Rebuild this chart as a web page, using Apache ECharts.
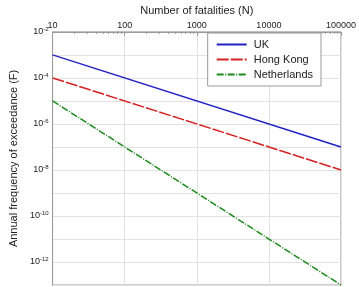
<!DOCTYPE html>
<html>
<head>
<meta charset="utf-8">
<script src="https://cdn.jsdelivr.net/npm/echarts@6/dist/echarts.min.js"></script>
<style>
  html, body { margin: 0; padding: 0; background: #fff; }
  #chart { width: 359px; height: 287px; }
</style>
</head>
<body>
<div id="chart"></div>
<script>
// endpoints (straight lines on log-log axes)
var fatalities = [10, 100000];
var ukFreq = [1e-3, 1e-7];
var hongKongFreq = [1e-4, 1e-8];
var netherlandsFreq = [1e-5, 1e-13];
var seriesNames = ["UK", "Hong Kong", "Netherlands"];

function pairs(xs, ys) {
  return xs.map(function (x, i) { return [x, ys[i]]; });
}

var myChart = echarts.init(document.getElementById("chart"));
var font = "Liberation Sans, Arial, sans-serif";

myChart.setOption({
  animation: false,
  textStyle: { fontFamily: font },
  grid: {
    left: 34,
    top: 24,
    right: 13,
    bottom: 2,
    show: true,
    borderColor: "#9a9a9a",
    borderWidth: 1
  },
  legend: {
    right: 38,
    top: 33,
    orient: "vertical",
    backgroundColor: "#fff",
    borderColor: "#9a9a9a",
    borderWidth: 1,
    padding: [6, 8, 6, 8],
    itemGap: 4,
    itemWidth: 30,
    itemHeight: 8,
    itemStyle: { opacity: 0 },
    textStyle: { fontSize: 11, color: "#222", fontFamily: font, padding: [0, 0, 0, 2] },
    data: seriesNames
  },
  xAxis: {
    type: "log",
    logBase: 10,
    min: 10,
    max: 100000,
    position: "top",
    name: "Number of fatalities (N)",
    nameLocation: "middle",
    nameGap: 15,
    nameTextStyle: { fontSize: 11, color: "#222" },
    axisLine: { show: true, lineStyle: { color: "#9a9a9a" } },
    axisTick: { show: true, inside: true, length: 4, lineStyle: { color: "#9a9a9a" } },
    minorTick: { show: true, splitNumber: 9, length: 2, lineStyle: { color: "#9a9a9a" } },
    axisLabel: {
      fontSize: 9,
      color: "#222",
      margin: 2,
      formatter: function (v) { return String(Math.round(v)); }
    },
    splitLine: { show: true, lineStyle: { color: "#e2e2e2" } }
  },
  yAxis: {
    type: "log",
    logBase: 10,
    min: 1e-13,
    max: 1e-2,
    interval: 1,
    name: "Annual frequency of exceedance (F)",
    nameLocation: "middle",
    nameRotate: 90,
    nameGap: 24,
    nameTextStyle: { fontSize: 11, color: "#222" },
    axisLine: { show: true, lineStyle: { color: "#9a9a9a" } },
    axisTick: { show: false },
    axisLabel: {
      margin: 4,
      formatter: function (v) {
        var e = Math.round(Math.log10(v));
        if (e % 2 !== 0) return "";
        return "{b|10}{s|" + e + "}";
      },
      rich: {
        b: { fontSize: 9, color: "#222", fontFamily: font },
        s: { fontSize: 6, color: "#222", verticalAlign: "top", padding: [0, 0, 6, 0], fontFamily: font }
      }
    },
    splitLine: { show: true, lineStyle: { color: "#e2e2e2" } }
  },
  series: [
    {
      name: seriesNames[0],
      type: "line",
      symbol: "none",
      data: pairs(fatalities, ukFreq),
      lineStyle: { color: "#2222c4", width: 1.5 },
      itemStyle: { color: "#2222c4" }
    },
    {
      name: seriesNames[1],
      type: "line",
      symbol: "none",
      data: pairs(fatalities, hongKongFreq),
      lineStyle: { color: "#d42222", width: 1.5, type: [12, 2] },
      itemStyle: { color: "#d42222" }
    },
    {
      name: seriesNames[2],
      type: "line",
      symbol: "none",
      data: pairs(fatalities, netherlandsFreq),
      lineStyle: { color: "#1a8a1a", width: 1.5, type: [7, 1.5, 1, 1.5] },
      itemStyle: { color: "#1a8a1a" }
    }
  ]
});
</script>
</body>
</html>
